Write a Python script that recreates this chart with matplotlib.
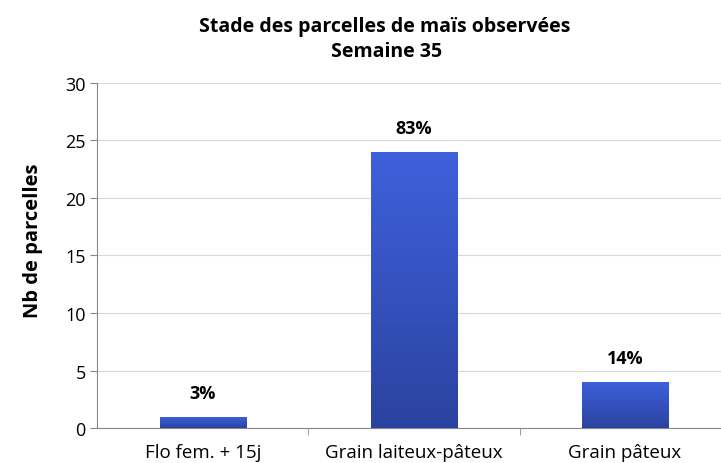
import numpy as np
import matplotlib.pyplot as plt
from matplotlib.colors import LinearSegmentedColormap

categories = ['Flo fem. + 15j', 'Grain laiteux-pâteux', 'Grain pâteux']
counts = [1, 24, 4]
pct_labels = ['3%', '83%', '14%']

plt.rcParams['font.family'] = ['Open Sans', 'DejaVu Sans']

fig = plt.figure(figsize=(7.21, 4.64), dpi=100)
ax = fig.add_axes([0.1352, 0.0754, 0.878, 0.7436])

x = np.arange(len(categories))
width = 0.41
bars = ax.bar(x, counts, width=width, color='none', zorder=3)

cmap = LinearSegmentedColormap.from_list('bl', ['#2B43A0', '#3E60DC'])
grad = np.linspace(0, 1, 256).reshape(-1, 1)
for b in bars:
    x0, y0 = b.get_x(), b.get_y()
    w, h = b.get_width(), b.get_height()
    im = ax.imshow(grad, cmap=cmap, aspect='auto', origin='lower',
                   extent=[x0, x0 + w, y0, y0 + h], zorder=3)
    im.set_clip_path(b)

for xi, c, lab in zip(x, counts, pct_labels):
    ax.text(xi, c + 1.3, lab, ha='center', va='bottom', fontsize=13,
            fontweight='bold', color='black')

ax.set_xlim(-0.5, 2.5)
ax.set_ylim(0, 30)
ax.set_yticks(range(0, 31, 5))
ax.set_xticks(x)
ax.set_xticklabels(categories, fontsize=13.5)
ax.set_xticks([0.5, 1.5], minor=True)
ax.tick_params(axis='x', which='major', length=0, pad=11)
ax.tick_params(axis='x', which='minor', length=5, color='#888888')
ax.tick_params(axis='y', length=5, color='#888888', labelsize=13)
ax.grid(axis='y', color='#d9d9d9', linewidth=0.8, zorder=0)
ax.set_axisbelow(True)
for s in ['top', 'right']:
    ax.spines[s].set_visible(False)
for s in ['left', 'bottom']:
    ax.spines[s].set_color('#888888')

fig.text(33 / 721, 1 - 241 / 464, 'Nb de parcelles', rotation=90,
         ha='center', va='center', fontsize=14.5, fontweight='bold')
fig.text(0.534, 1 - 27 / 464, 'Stade des parcelles de maïs observées',
         ha='center', va='center', fontsize=14, fontweight='bold')
fig.text(0.536, 1 - 52 / 464, 'Semaine 35',
         ha='center', va='center', fontsize=14, fontweight='bold')

fig.savefig('out.png', dpi=100)
